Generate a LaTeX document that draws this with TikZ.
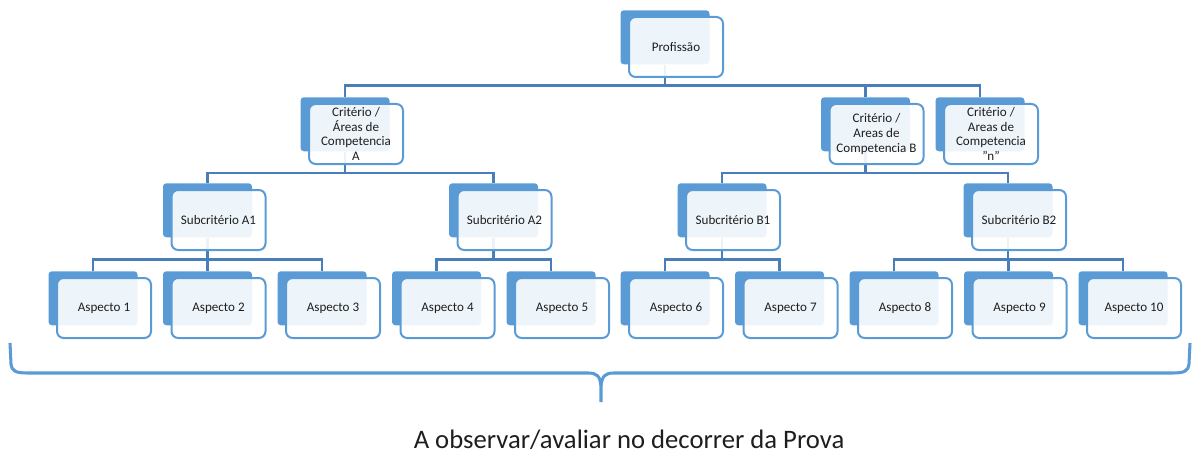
\documentclass[tikz,border=0pt]{standalone}
\usepackage{fontspec}
\setmainfont{Carlito}
\usetikzlibrary{calc}
\definecolor{boxblue}{RGB}{91,155,213}
\definecolor{connblue}{RGB}{74,126,187}
\definecolor{txt}{RGB}{30,30,30}
\begin{document}
\begin{tikzpicture}[x=0.75pt,y=-0.75pt,
 backbox/.style={rectangle, rounded corners=2.5pt, fill=boxblue, minimum width=66.75pt, minimum height=40.5pt, inner sep=0pt, anchor=north},
 frontbox/.style={rectangle, rounded corners=5pt, draw=boxblue, line width=1.5pt, fill=white, fill opacity=0.9, text opacity=1, text=txt, minimum width=70.5pt, minimum height=45pt, inner sep=1pt, align=center, font=\fontsize{9.8}{10.9}\selectfont},
 conn/.style={draw=connblue, line width=1.6pt},
 bracestyle/.style={draw=boxblue, line width=2.3pt}]
\useasboundingbox (0,0) rectangle (1193,453);
% back boxes
\node[backbox] (pB) at (665,10) {};
\node[backbox] (aB) at (345,97) {};
\node[backbox] (bB) at (865.5,97) {};
\node[backbox] (nB) at (980,97) {};
\node[backbox] (a1B) at (207.5,183) {};
\node[backbox] (a2B) at (493.5,183) {};
\node[backbox] (b1B) at (722,183) {};
\node[backbox] (b2B) at (1008,183) {};
\node[backbox] (s1B) at (93,271) {};
\node[backbox] (s2B) at (207.5,271) {};
\node[backbox] (s3B) at (322,271) {};
\node[backbox] (s4B) at (436.5,271) {};
\node[backbox] (s5B) at (551,271) {};
\node[backbox] (s6B) at (665,271) {};
\node[backbox] (s7B) at (779.5,271) {};
\node[backbox] (s8B) at (894,271) {};
\node[backbox] (s9B) at (1008.5,271) {};
\node[backbox] (s10B) at (1123,271) {};
% bar levels
\coordinate (y0) at (0,85.5);
\coordinate (y1) at (0,173);
\coordinate (y2) at (0,259.5);
% connectors
\draw[conn] (pB.south) -- (pB.south |- y0);
\draw[conn] (aB.north) -- (aB.north |- y0) -- (nB.north |- y0) -- (nB.north);
\draw[conn] (bB.north) -- (bB.north |- y0);
\draw[conn] (aB.south) -- (aB.south |- y1);
\draw[conn] (a1B.north) -- (a1B.north |- y1) -- (a2B.north |- y1) -- (a2B.north);
\draw[conn] (bB.south) -- (bB.south |- y1);
\draw[conn] (b1B.north) -- (b1B.north |- y1) -- (b2B.north |- y1) -- (b2B.north);
\draw[conn] (a1B.south) -- (a1B.south |- y2);
\draw[conn] (s1B.north) -- (s1B.north |- y2) -- (s3B.north |- y2) -- (s3B.north);
\draw[conn] (s2B.north) -- (s2B.north |- y2);
\draw[conn] (a2B.south) -- (a2B.south |- y2);
\draw[conn] (s4B.north) -- (s4B.north |- y2) -- (s5B.north |- y2) -- (s5B.north);
\draw[conn] (b1B.south) -- (b1B.south |- y2);
\draw[conn] (s6B.north) -- (s6B.north |- y2) -- (s7B.north |- y2) -- (s7B.north);
\draw[conn] (b2B.south) -- (b2B.south |- y2);
\draw[conn] (s8B.north) -- (s8B.north |- y2) -- (s10B.north |- y2) -- (s10B.north);
\draw[conn] (s9B.north) -- (s9B.north |- y2);
% front boxes
\node[frontbox] (p) at ($(pB.north)+(11,37)$) {Profissão};
\node[frontbox] (a) at ($(aB.north)+(11,37)$) {Critério /\\Áreas de\\Competencia\\A};
\node[frontbox] (b) at ($(bB.north)+(11,37)$) {Critério /\\Areas de\\Competencia B};
\node[frontbox] (n) at ($(nB.north)+(11,37)$) {Critério /\\Areas de\\Competencia\\\char34 n\char34};
\node[frontbox] (a1) at ($(a1B.north)+(11,37)$) {Subcritério A1};
\node[frontbox] (a2) at ($(a2B.north)+(11,37)$) {Subcritério A2};
\node[frontbox] (b1) at ($(b1B.north)+(11,37)$) {Subcritério B1};
\node[frontbox] (b2) at ($(b2B.north)+(11,37)$) {Subcritério B2};
\node[frontbox] (s1) at ($(s1B.north)+(11,37)$) {Aspecto 1};
\node[frontbox] (s2) at ($(s2B.north)+(11,37)$) {Aspecto 2};
\node[frontbox] (s3) at ($(s3B.north)+(11,37)$) {Aspecto 3};
\node[frontbox] (s4) at ($(s4B.north)+(11,37)$) {Aspecto 4};
\node[frontbox] (s5) at ($(s5B.north)+(11,37)$) {Aspecto 5};
\node[frontbox] (s6) at ($(s6B.north)+(11,37)$) {Aspecto 6};
\node[frontbox] (s7) at ($(s7B.north)+(11,37)$) {Aspecto 7};
\node[frontbox] (s8) at ($(s8B.north)+(11,37)$) {Aspecto 8};
\node[frontbox] (s9) at ($(s9B.north)+(11,37)$) {Aspecto 9};
\node[frontbox] (s10) at ($(s10B.north)+(11,37)$) {Aspecto 10};
% brace
\draw[bracestyle] (10,343) -- (11,364) .. controls (12,371) and (15,373) .. (28,373) -- (588,373) .. controls (597,373) and (600,376) .. (601,386) -- (601,402);
\draw[bracestyle] (601,386) .. controls (602,376) and (605,373) .. (614,373) -- (1172,373) .. controls (1185,373) and (1188,371) .. (1189,364) -- (1190,343);
% caption
\node[text=txt, font=\fontsize{20}{24}\selectfont, anchor=base, inner sep=0pt] (cap) at (629,448) {A observar/avaliar no decorrer da Prova};
\end{tikzpicture}
\end{document}
